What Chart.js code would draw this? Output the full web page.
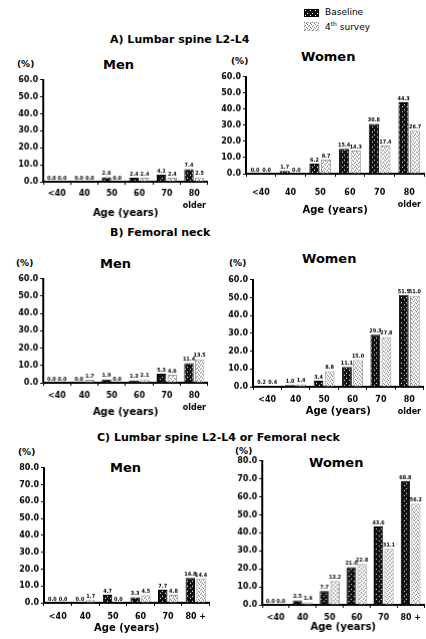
<!DOCTYPE html>
<html>
<head>
<meta charset="utf-8">
<script src="https://cdn.jsdelivr.net/npm/chart.js@4"></script>
<style>
  body { margin: 0; background: #fff; }
  #page { position: relative; width: 426px; height: 639px; overflow: hidden; font-family: "DejaVu Sans", sans-serif; color: #000; }
  #page canvas { position: absolute; }
  .txt { position: absolute; white-space: nowrap; line-height: 1.2; font-weight: bold; }
  .row-title { font-size: 11px; }
  .sex { font-size: 13px; }
  .pct { font-size: 9px; }
  .leg { font-size: 9px; font-weight: normal; }
</style>
</head>
<body>
<div id="page">
  <canvas id="swBase" width="15" height="8" style="left:304px;top:9px"></canvas>
  <span class="txt leg" style="left:325px;top:7px">Baseline</span>
  <canvas id="sw4th" width="15" height="9" style="left:304px;top:22px"></canvas>
  <span class="txt leg" style="left:325px;top:20px">4<sup style="font-size:6px">th</sup> survey</span>

  <span class="txt row-title" style="left:110px;top:33px">A) Lumbar spine L2-L4</span>
  <span class="txt pct" style="left:17px;top:59px">(%)</span>
  <span class="txt sex" style="left:103px;top:57px">Men</span>
  <span class="txt pct" style="left:231px;top:56px">(%)</span>
  <span class="txt sex" style="left:301px;top:49px">Women</span>

  <span class="txt row-title" style="left:110px;top:226px">B) Femoral neck</span>
  <span class="txt pct" style="left:16px;top:258px">(%)</span>
  <span class="txt sex" style="left:100px;top:256px">Men</span>
  <span class="txt pct" style="left:229px;top:258px">(%)</span>
  <span class="txt sex" style="left:302px;top:251px">Women</span>

  <span class="txt row-title" style="left:97px;top:431px">C) Lumbar spine L2-L4 or Femoral neck</span>
  <span class="txt pct" style="left:18px;top:447px">(%)</span>
  <span class="txt sex" style="left:110px;top:460px">Men</span>
  <span class="txt pct" style="left:235px;top:446px">(%)</span>
  <span class="txt sex" style="left:309px;top:455px">Women</span>

  <canvas id="aMen"></canvas>
  <canvas id="aWomen"></canvas>
  <canvas id="bMen"></canvas>
  <canvas id="bWomen"></canvas>
  <canvas id="cMen"></canvas>
  <canvas id="cWomen"></canvas>
</div>
<script>
// categories
const ageLabelsAB = ['<40', '40', '50', '60', '70', ['80', 'older']];
const ageLabelsC = ['<40', '40', '50', '60', '70', '80 +'];

// A) Lumbar spine L2-L4 (%)
const spineMenBaseline = [0.0, 0.0, 2.6, 2.4, 4.1, 7.4];
const spineMen4th = [0.0, 0.0, 0.0, 2.4, 2.4, 2.5];
const spineWomenBaseline = [0.0, 1.7, 6.2, 15.4, 30.8, 44.3];
const spineWomen4th = [0.0, 0.0, 8.7, 14.3, 17.4, 26.7];

// B) Femoral neck (%)
const neckMenBaseline = [0.0, 0.0, 1.9, 1.3, 5.3, 11.4];
const neckMen4th = [0.0, 1.7, 0.0, 2.1, 4.6, 13.5];
const neckWomenBaseline = [0.2, 1.0, 3.4, 11.1, 29.3, 51.5];
const neckWomen4th = [0.4, 1.4, 8.8, 15.0, 27.8, 51.0];

// C) Lumbar spine L2-L4 or femoral neck (%)
const eitherMenBaseline = [0.0, 0.0, 4.7, 3.3, 7.7, 14.8];
const eitherMen4th = [0.0, 1.7, 0.0, 4.5, 4.8, 14.4];
const eitherWomenBaseline = [0.0, 2.5, 7.7, 21.0, 43.6, 68.8];
const eitherWomen4th = [0.0, 1.4, 13.2, 22.8, 31.1, 56.2];

const seriesNames = ['Baseline', '4th survey'];

Chart.defaults.font.family = '"DejaVu Sans", sans-serif';
Chart.defaults.color = '#000';

function makePattern(bg, fg, dots, size) {
  const c = document.createElement('canvas');
  c.width = c.height = size;
  const x = c.getContext('2d');
  x.fillStyle = bg;
  x.fillRect(0, 0, size, size);
  x.fillStyle = fg;
  dots.forEach(([a, b]) => x.fillRect(a, b, 1, 1));
  return x.createPattern(c, 'repeat');
}

const basePattern = makePattern('#111', '#fff', [[1, 1], [3, 4]], 5);
const fourthPattern = makePattern('#fff', '#777', [[0, 0], [2, 1], [1, 3], [3, 2]], 4);

// legend swatches
[['swBase', basePattern, '#000'], ['sw4th', fourthPattern, '#aaa']].forEach(([id, pat, edge]) => {
  const c = document.getElementById(id);
  const x = c.getContext('2d');
  x.fillStyle = pat;
  x.fillRect(0, 0, c.width, c.height);
  x.strokeStyle = edge;
  x.setLineDash(id === 'sw4th' ? [1, 1] : []);
  x.strokeRect(0.5, 0.5, c.width - 1, c.height - 1);
});

// value written above each bar
const barValueLabels = {
  id: 'barValueLabels',
  afterDatasetsDraw(chart) {
    const ctx = chart.ctx;
    ctx.save();
    ctx.font = 'bold 5.5px "DejaVu Sans Condensed", sans-serif';
    ctx.fillStyle = '#000';
    ctx.textAlign = 'center';
    ctx.textBaseline = 'bottom';
    chart.data.datasets.forEach((ds, i) => {
      chart.getDatasetMeta(i).data.forEach((bar, j) => {
        ctx.fillText(ds.data[j].toFixed(1), bar.x, bar.y - 1);
      });
    });
    ctx.restore();
  }
};

// where each panel's axes sit on the page
const panels = [
  { id: 'aMen', x: 43, top: 80, bottom: 182, right: 208, max: 60, labels: ageLabelsAB, base: spineMenBaseline, fourth: spineMen4th, tickY: 194, titleY: 213 },
  { id: 'aWomen', x: 246, top: 77, bottom: 174, right: 424, max: 60, labels: ageLabelsAB, base: spineWomenBaseline, fourth: spineWomen4th, tickY: 193, titleY: 210 },
  { id: 'bMen', x: 43, top: 279, bottom: 383, right: 208, max: 60, labels: ageLabelsAB, base: neckMenBaseline, fourth: neckMen4th, tickY: 396, titleY: 412 },
  { id: 'bWomen', x: 253, top: 280, bottom: 387, right: 424, max: 60, labels: ageLabelsAB, base: neckWomenBaseline, fourth: neckWomen4th, tickY: 400, titleY: 411 },
  { id: 'cMen', x: 44, top: 468, bottom: 603, right: 210, max: 80, labels: ageLabelsC, base: eitherMenBaseline, fourth: eitherMen4th, tickY: 617, titleY: 628 },
  { id: 'cWomen', x: 262, top: 461, bottom: 605, right: 424, max: 80, labels: ageLabelsC, base: eitherWomenBaseline, fourth: eitherWomen4th, tickY: 618, titleY: 627 }
];

const Y_AXIS_W = 40;
const TICK_LEN = 3;
const TICK_LH = 12;   // 8px font, 1.5 line height
const TITLE_LH = 12;  // 10px font, 1.2 line height

function buildChart(p, canvas) {
  const xHeight = p.titleY - p.bottom + TITLE_LH / 2;
  return new Chart(canvas, {
    type: 'bar',
    data: {
      labels: p.labels,
      datasets: [
        { label: seriesNames[0], data: p.base, backgroundColor: basePattern, borderColor: '#000', borderWidth: 1 },
        { label: seriesNames[1], data: p.fourth, backgroundColor: fourthPattern, borderColor: '#999', borderWidth: 1 }
      ]
    },
    options: {
      responsive: false,
      animation: false,
      devicePixelRatio: 1,
      layout: { padding: 0 },
      datasets: { bar: { categoryPercentage: 0.78, barPercentage: 0.88 } },
      plugins: { legend: { display: false }, tooltip: { enabled: false } },
      scales: {
        x: {
          grid: { drawOnChartArea: false, drawTicks: true, tickLength: TICK_LEN, color: '#000', lineWidth: 1 },
          border: { color: '#000', width: 2 },
          ticks: { font: { size: 8, weight: 'bold', lineHeight: 1.5 }, padding: p.tickY - p.bottom - TICK_LEN - TICK_LH / 2, maxRotation: 0, autoSkip: false },
          title: { display: true, text: 'Age (years)', font: { size: 10, weight: 'bold' }, padding: 0 },
          afterFit: s => { s.height = xHeight; }
        },
        y: {
          min: 0,
          max: p.max,
          grid: { drawOnChartArea: false, drawTicks: true, tickLength: TICK_LEN, color: '#000', lineWidth: 1 },
          border: { color: '#000', width: 2 },
          ticks: { stepSize: 10, font: { size: 8, weight: 'bold' }, padding: 2, callback: v => v.toFixed(1) },
          afterFit: s => { s.width = Y_AXIS_W; }
        }
      }
    },
    plugins: [barValueLabels]
  });
}

panels.forEach(p => {
  const canvas = document.getElementById(p.id);
  let w = p.right - p.x + Y_AXIS_W + 4;
  let h = p.bottom - p.top + (p.titleY - p.bottom) + 20;
  canvas.width = w;
  canvas.height = h;
  let chart = buildChart(p, canvas);
  const ca = chart.chartArea;
  const dw = (p.right - p.x) - (ca.right - ca.left);
  const dh = (p.bottom - p.top) - (ca.bottom - ca.top);
  const left = p.x - ca.left;
  const top = p.top - ca.top;
  chart.destroy();
  canvas.width = w + dw;
  canvas.height = h + dh;
  canvas.style.width = (w + dw) + 'px';
  canvas.style.height = (h + dh) + 'px';
  canvas.style.left = left + 'px';
  canvas.style.top = top + 'px';
  buildChart(p, canvas);
});
</script>
</body>
</html>
